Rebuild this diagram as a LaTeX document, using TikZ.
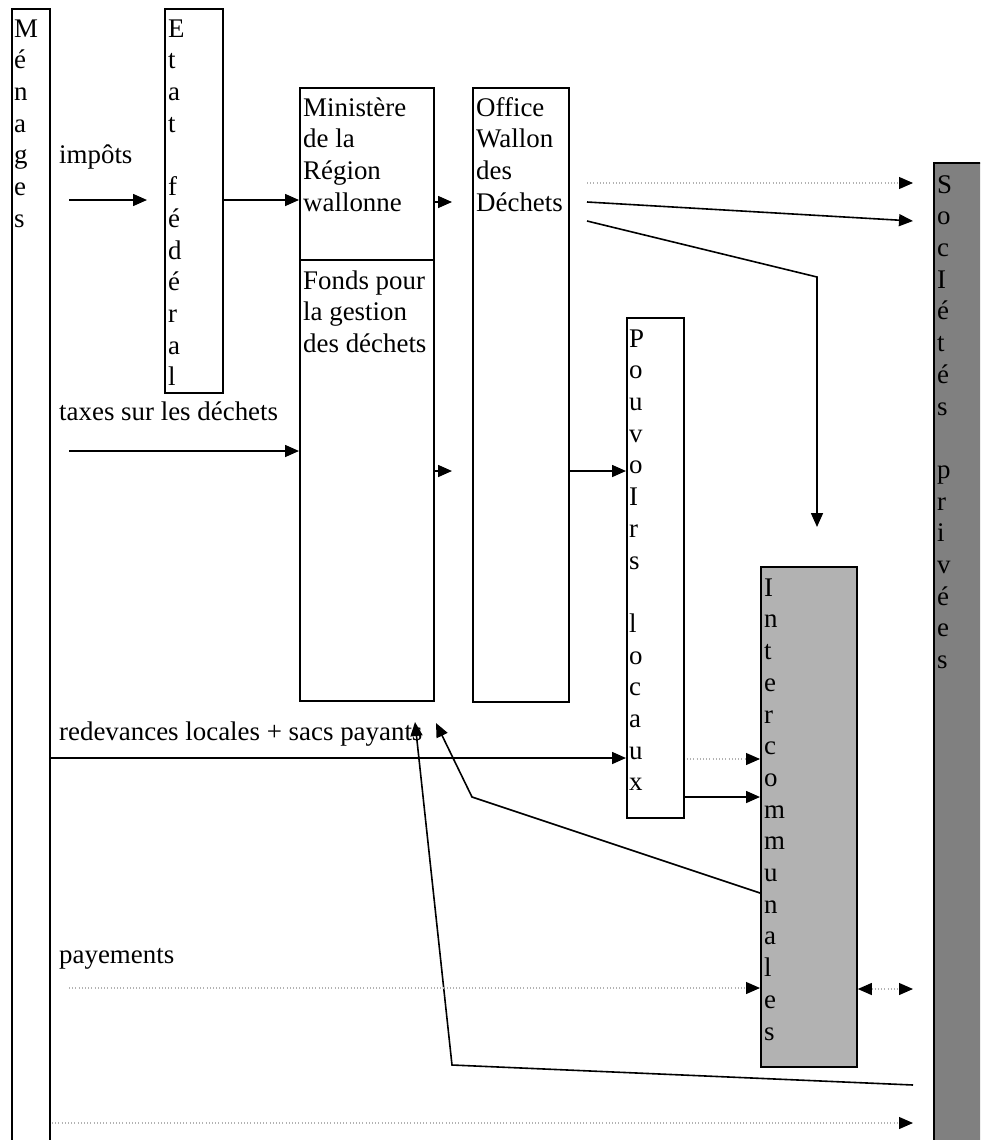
\documentclass[tikz,border=0pt]{standalone}
\usepackage{fontspec}
\setmainfont{Liberation Serif}
\usetikzlibrary{arrows.meta}
\begin{document}
\begin{tikzpicture}[x=1pt,y=-1pt,
  box/.style={draw=black,line width=1.8pt,rectangle,inner sep=0pt,anchor=north west},
  lbl/.style={inner sep=0pt,anchor=north west,align=left,font=\fontsize{26.9}{31.7}\selectfont},
  tlbl/.style={inner sep=0pt,anchor=base west,font=\fontsize{26.9}{31.7}\selectfont},
  arr/.style={line width=1.6pt,-{Triangle[length=14pt,width=12pt]}},
  dotarr/.style={draw=gray!60,line width=1.1pt,dash pattern=on 1pt off 2.2pt,
     -{Triangle[length=14pt,width=12pt,color=black,fill=black]}},
  dotdbl/.style={draw=gray!60,line width=1.1pt,dash pattern=on 1pt off 2.2pt,
     {Triangle[length=14pt,width=12pt,color=black,fill=black]}-{Triangle[length=14pt,width=12pt,color=black,fill=black]}}
]
\useasboundingbox (0,0) rectangle (980,1140);
\clip (0,0) rectangle (980,1140);

% boxes
\node[box,minimum width=38pt,minimum height=1150pt] (men) at (11,8) {};
\node[box,minimum width=58pt,minimum height=384pt] (etat) at (164,8) {};
\node[box,minimum width=134pt,minimum height=172pt] (mini) at (299,87) {};
\node[box,minimum width=134pt,minimum height=441pt] (fonds) at (299,259) {};
\node[box,minimum width=96pt,minimum height=614pt] (office) at (472,87) {};
\node[box,minimum width=57pt,minimum height=500pt] (pouv) at (626,317) {};
\node[box,fill=gray!60,minimum width=96pt,minimum height=500pt] (inter) at (760,566) {};
\node[box,fill=gray,minimum width=70pt,minimum height=1000pt] (soc) at (933,162) {};

% box texts
\node[lbl] (tmen) at (14,14.8) {\strut M\\é\\n\\a\\g\\e\\s};
\node[lbl] (tetat) at (168,14.8) {\strut E\\t\\a\\t\\\mbox{}\\f\\é\\d\\é\\r\\a\\l};
\node[lbl] (tmini) at (303,93.8) {\strut Ministère\\de la\\Région\\wallonne};
\node[lbl] (tfonds) at (303,266.8) {\strut Fonds pour\\la gestion\\des déchets};
\node[lbl] (toffice) at (476,93.8) {\strut Office\\Wallon\\des\\Déchets};
\node[lbl] (tpouv) at (629,324.8) {\strut P\\o\\u\\v\\o\\I\\r\\s\\\mbox{}\\l\\o\\c\\a\\u\\x};
\node[lbl] (tinter) at (764,573.8) {\strut I\\n\\t\\e\\r\\c\\o\\m\\m\\u\\n\\a\\l\\e\\s};
\node[lbl] (tsoc) at (937,170.8) {\strut S\\o\\c\\I\\é\\t\\é\\s\\\mbox{}\\p\\r\\i\\v\\é\\e\\s};

% flow labels
\node[tlbl] (limp) at (59,163) {impôts};
\node[tlbl] (ltax) at (59,420) {taxes sur les déchets};
\node[tlbl] (lred) at (59,740) {redevances locales + sacs payants};
\node[tlbl] (lpay) at (59,963) {payements};

% free coordinates
\coordinate (impS) at (69,200);
\coordinate (impE) at (147,200);
\coordinate (minE) at (452,202);
\coordinate (offD1) at (587,183);
\coordinate (socD1) at (913,183);
\coordinate (offS1) at (587,202);
\coordinate (socS1) at (913,221);
\coordinate (offS2) at (587,221);
\coordinate (bend1) at (817,277);
\coordinate (intTop) at (817,527);
\coordinate (taxS) at (69,451);
\coordinate (fonE) at (452,471);
\coordinate (pouvD) at (687,759);
\coordinate (bend2) at (472,797);
\coordinate (tip2) at (436,723);
\coordinate (socS2) at (913,1085);
\coordinate (bend3) at (452,1065);
\coordinate (tip3) at (415,722);
\coordinate (payS) at (69,988);
\coordinate (socD2) at (913,989);
\coordinate (botS) at (52,1123);
\coordinate (botE) at (913,1123);

% connectors
\draw[arr] (impS) -- (impE);
\draw[arr] (etat.east |- impS) -- (mini.west |- impS);
\draw[arr] (mini.east |- minE) -- (minE);
\draw[dotarr] (offD1) -- (socD1);
\draw[arr] (offS1) -- (socS1);
\draw[arr] (offS2) -- (bend1) -- (intTop);
\draw[arr] (taxS) -- (fonds.west |- taxS);
\draw[arr] (fonds.east |- fonE) -- (fonE);
\draw[arr] (office.east |- fonE) -- (pouv.west |- fonE);
\draw[arr] (men.east |- 0,758) -- (pouv.west |- 0,758);
\draw[dotarr] (pouvD) -- (inter.west |- pouvD);
\draw[arr] (pouv.east |- 0,797) -- (inter.west |- 0,797);
\draw[arr] (inter.west |- 0,893) -- (bend2) -- (tip2);
\draw[arr] (socS2) -- (bend3) -- (tip3);
\draw[dotarr] (payS) -- (inter.west |- payS);
\draw[dotdbl] (inter.east |- socD2) -- (socD2);
\draw[dotarr] (botS) -- (botE);
\end{tikzpicture}
\end{document}
